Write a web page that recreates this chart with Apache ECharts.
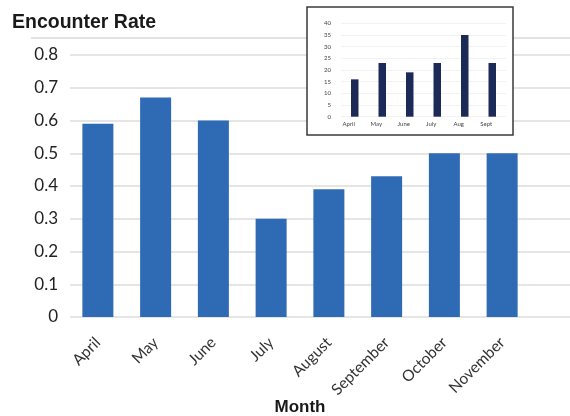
<!DOCTYPE html>
<html>
<head>
<meta charset="utf-8">
<script src="https://cdn.jsdelivr.net/npm/echarts@6/dist/echarts.min.js"></script>
<style>
  html, body { margin: 0; padding: 0; background: #fff; }
  #chart { width: 570px; height: 416px; }
</style>
</head>
<body>
<div id="chart"></div>
<script>
// Monthly encounter rate (main chart)
const months = ['April', 'May', 'June', 'July', 'August', 'September', 'October', 'November'];
const encounterRate = [0.59, 0.67, 0.60, 0.30, 0.39, 0.43, 0.50, 0.50];
const rateTicks = ['0', '0.1', '0.2', '0.3', '0.4', '0.5', '0.6', '0.7', '0.8'];

// Monthly counts (inset chart)
const insetMonths = ['April', 'May', 'June', 'July', 'Aug', 'Sept'];
const insetCounts = [16, 23, 19, 23, 35, 23];

const chart = echarts.init(document.getElementById('chart'), null, { renderer: 'canvas' });
const bodyFont = 'Lato, "Open Sans", sans-serif';
const headFont = '"Liberation Sans", Arial, sans-serif';

chart.setOption({
  animation: false,
  backgroundColor: '#ffffff',
  title: [
    {
      text: 'Encounter Rate', left: 7, top: 8,
      textStyle: { fontFamily: headFont, fontWeight: 'bold', fontSize: 19.5, color: '#1a1a1a' }
    },
    {
      text: 'Month', left: 295, top: 394, textAlign: 'center',
      textStyle: { fontFamily: headFont, fontWeight: 'bold', fontSize: 17, color: '#1a1a1a' }
    }
  ],
  graphic: [
    { type: 'line', z: 0, shape: { x1: 31, y1: 38, x2: 570, y2: 38 },
      style: { stroke: '#d9d9d9', lineWidth: 1.5 } },
    { type: 'rect', z: 10, shape: { x: 307, y: 7, width: 206, height: 128 },
      style: { fill: '#ffffff', stroke: '#3a3a3a', lineWidth: 1.5 } }
  ],
  grid: [
    // gridline layer spanning to the right edge
    { left: 70, right: 0, top: 55, bottom: 99 },
    // bar layer
    { left: 69, right: 39, top: 55, bottom: 99 },
    // inset
    { left: 341, width: 165, top: 23.3, height: 93.4 }
  ],
  xAxis: [
    { gridIndex: 0, type: 'value', show: false, min: 0, max: 1 },
    {
      gridIndex: 1, type: 'category', data: months,
      axisLine: { show: false }, axisTick: { show: false },
      axisLabel: { rotate: 45, margin: 23, fontSize: 15.5, color: '#333', fontFamily: bodyFont, interval: 0 }
    },
    {
      gridIndex: 2, type: 'category', data: insetMonths, z: 20,
      axisLine: { show: false }, axisTick: { show: false },
      axisLabel: { fontSize: 6, color: '#444', margin: 4, padding: [0, 12, 0, 0], fontFamily: bodyFont, interval: 0 }
    }
  ],
  yAxis: [
    {
      gridIndex: 0, type: 'value', min: 0, max: 0.8, interval: 0.1,
      axisLine: { show: false }, axisTick: { show: false },
      splitLine: { lineStyle: { color: '#dcdcdc', width: 1.5 } },
      axisLabel: {
        fontSize: 17, color: '#222', margin: 12, fontFamily: bodyFont,
        formatter: (v) => rateTicks[Math.round(v * 10)]
      }
    },
    {
      gridIndex: 1, type: 'value', min: 0, max: 0.8, interval: 0.1, show: false,
      splitLine: { show: false }
    },
    {
      gridIndex: 2, type: 'value', min: 0, max: 40, interval: 5, z: 20,
      axisLine: { show: false }, axisTick: { show: false },
      splitLine: { lineStyle: { color: '#efefef', width: 0.8 } },
      axisLabel: { fontSize: 6, color: '#444', margin: 10, fontFamily: bodyFont }
    }
  ],
  series: [
    {
      type: 'bar', xAxisIndex: 1, yAxisIndex: 1, data: encounterRate,
      barWidth: 31, itemStyle: { color: '#2e6bb4' }, z: 2
    },
    {
      type: 'bar', xAxisIndex: 2, yAxisIndex: 2, data: insetCounts,
      barWidth: 7.5, itemStyle: { color: '#1c2a58' }, z: 30
    }
  ]
});
</script>
</body>
</html>
